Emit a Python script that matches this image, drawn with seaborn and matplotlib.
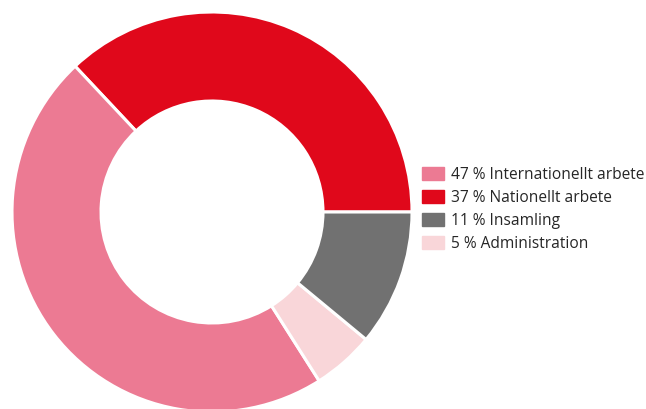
import matplotlib
matplotlib.use("Agg")
import matplotlib.pyplot as plt
import matplotlib.patches as mpatches
import seaborn as sns

sns.set_theme(style="white")
plt.rcParams["font.family"] = ["Open Sans", "DejaVu Sans"]

# andelar, ritade moturs från klockan 3
kategorier = ["Nationellt arbete", "Internationellt arbete", "Administration", "Insamling"]
andelar = [37, 47, 5, 11]
farger = ["#e0081b", "#ec7a93", "#f9d6d9", "#717171"]

# legendens ordning
legend_ordning = ["Internationellt arbete", "Nationellt arbete", "Insamling", "Administration"]

fig = plt.figure(figsize=(6.46, 4.10), dpi=100)
ax = fig.add_axes([12 / 646, -3 / 410, 400 / 646, 400 / 410])

ax.pie(andelar, colors=farger, startangle=0, counterclock=True, radius=1,
       wedgeprops=dict(width=0.445, edgecolor="white", linewidth=2.2))
ax.set_xlim(-1, 1)
ax.set_ylim(-1, 1)
ax.set_aspect("equal")
ax.axis("off")

handles = []
for namn in legend_ordning:
    i = kategorier.index(namn)
    handles.append(mpatches.Patch(color=farger[i], label=f"{andelar[i]} % {namn}"))

fig.legend(handles=handles, loc="upper left", bbox_to_anchor=(422 / 646, 1 - 167.5 / 410),
           frameon=False, fontsize=11.2, handlelength=1.41, handleheight=0.9,
           handletextpad=0.45, labelspacing=0.45, borderpad=0, borderaxespad=0,
           labelcolor="#262626")

fig.savefig("out.png", dpi=100, facecolor="white")
